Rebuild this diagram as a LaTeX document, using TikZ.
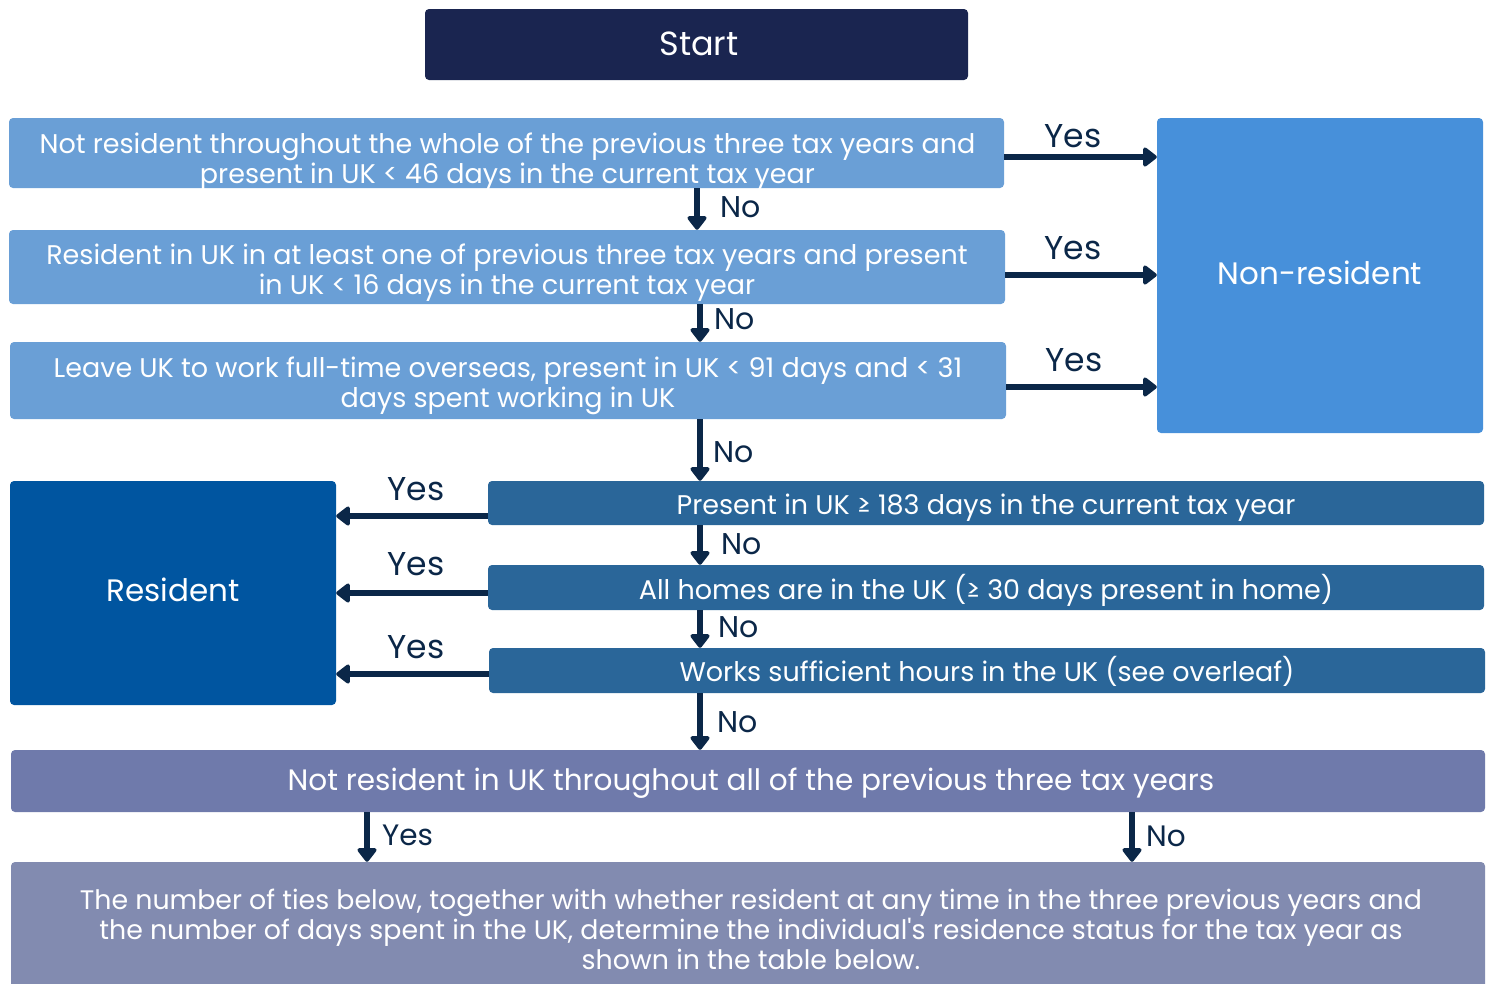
\documentclass[tikz,border=0pt]{standalone}
\usepackage{fontspec}
\setmainfont{Poppins}
\newfontfamily\plainpop{Poppins}[Ligatures=ResetAll]
\usetikzlibrary{arrows.meta}
\definecolor{startc}{HTML}{1A2550}
\definecolor{lightb}{HTML}{6A9FD6}
\definecolor{nonresc}{HTML}{4790DA}
\definecolor{midb}{HTML}{2A6699}
\definecolor{resc}{HTML}{0055A0}
\definecolor{greyb}{HTML}{6F7AAB}
\definecolor{greyc}{HTML}{828BB0}
\definecolor{arrc}{HTML}{0B2748}
\tikzset{
  box/.style={rounded corners=4pt, inner sep=0pt},
  txt/.style={text=white, align=center, inner sep=0pt, font=\fontsize{27}{30}\selectfont},
  arr/.style={draw=arrc, line width=5.5pt, -{Triangle[length=15pt,width=22pt,round]}},
  lbl/.style={text=arrc, inner sep=0pt, font=\fontsize{30}{34}\selectfont},
  ylbl/.style={text=arrc, inner sep=0pt, font=\fontsize{33}{36}\selectfont},
}
\begin{document}
\begin{tikzpicture}[x=1pt,y=-1pt]
\useasboundingbox (0,0) rectangle (1493,983);
% boxes
\node[box, fill=startc, minimum width=543pt, minimum height=71pt] (start) at (696.5,44.5) {};
\node[txt, font=\fontsize{33.5}{36}\selectfont] (startt) at (699,44) {Start};
\node[box, fill=lightb, minimum width=995pt, minimum height=70pt] (b1) at (506.5,153) {};
\node[txt] (b1t) at ([xshift=1pt,yshift=-9pt]b1.center)
  {Not resident throughout the whole of the previous three tax years and\\present in UK < 46 days in the current tax year};
\node[box, fill=lightb, minimum width=996pt, minimum height=74pt] (b2) at (507,267) {};
\node[txt] (b2t) at ([yshift=-6pt]b2.center)
  {Resident in UK in at least one of previous three tax years and present\\in UK < 16 days in the current tax year};
\node[box, fill=lightb, minimum width=996pt, minimum height=77pt] (b3) at (508,380.5) {};
\node[txt] (b3t) at ([yshift=-5pt]b3.center)
  {Leave UK to work full-time overseas, present in UK < 91 days and < 31\\days spent working in UK};
\node[box, fill=nonresc, minimum width=326pt, minimum height=315pt] (nonres) at (1320,275.5) {};
\node[txt, font=\fontsize{31}{34}\selectfont] (nonrest) at (1320,273) {Non-resident};
\node[box, fill=midb, minimum width=996pt, minimum height=44pt] (b4) at (986,503) {};
\node[txt] (b4t) at ([yshift=-5pt]b4.center) {Present in UK ≥ 183 days in the current tax year};
\node[box, fill=midb, minimum width=996pt, minimum height=45pt] (b5) at (986,587.5) {};
\node[txt] (b5t) at ([yshift=-2.5pt]b5.center) {All homes are in the UK (≥ 30 days present in home)};
\node[box, fill=midb, minimum width=996pt, minimum height=45pt] (b6) at (987,670.5) {};
\node[txt] (b6t) at ([yshift=-1pt]b6.center) {Works sufficient hours in the UK (see overleaf)};
\node[box, fill=resc, minimum width=326pt, minimum height=224pt] (res) at (173,593) {};
\node[txt, font=\fontsize{31}{34}\selectfont] (rest) at (173,590) {Resident};
\node[box, fill=greyb, minimum width=1474pt, minimum height=62pt] (b7) at (748,781) {};
\node[txt, font=\fontsize{29.5}{32}\selectfont] (b7t) at ([xshift=3pt,yshift=-2pt]b7.center)
  {Not resident in UK throughout all of the previous three tax years};
\node[box, fill=greyc, minimum width=1474pt, minimum height=134pt] (b8) at (748,929) {};
\node[txt, font=\fontsize{26.8}{30}\selectfont] (b8t) at ([xshift=3pt]b8.center)
  {The number of ties below, together with whether resident at any time in the three previous years and\\the number of days spent in the UK, determine the individual{\plainpop'}s residence status for the tax year as\\shown in the table below.};
% coordinates for vertical arrows
\coordinate (xa) at (697,0);
\coordinate (xb) at (700,0);
\coordinate (xl) at (367,0);
\coordinate (xr) at (1132,0);
% yes arrows to non-resident
\draw[arr] ([yshift=-4pt]b1.east) -- ([yshift=-4pt]b1.east -| nonres.west);
\draw[arr] ([yshift=-8pt]b2.east) -- ([yshift=-8pt]b2.east -| nonres.west);
\draw[arr] ([yshift=-6.5pt]b3.east) -- ([yshift=-6.5pt]b3.east -| nonres.west);
\node[ylbl] (y1) at (1073,136) {Yes};
\node[ylbl] (y2) at (1073,248) {Yes};
\node[ylbl] (y3) at (1074,360) {Yes};
% no arrows
\draw[arr] (b1.south -| xa) -- (b2.north -| xa);
\draw[arr] (b2.south -| xb) -- (b3.north -| xb);
\draw[arr] (b3.south -| xb) -- (b4.north -| xb);
\draw[arr] (b4.south -| xb) -- (b5.north -| xb);
\draw[arr] (b5.south -| xb) -- (b6.north -| xb);
\draw[arr] (b6.south -| xb) -- (b7.north -| xb);
\node[lbl, anchor=west] (n1) at (720,207) {No};
\node[lbl, anchor=west] (n2) at (714,319) {No};
\node[lbl, anchor=west] (n3) at (713,452) {No};
\node[lbl, anchor=west] (n4) at (721,544) {No};
\node[lbl, anchor=west] (n5) at (718,627) {No};
\node[lbl, anchor=west] (n6) at (717,722) {No};
% yes arrows to resident
\draw[arr] ([yshift=-13pt]b4.west) -- ([yshift=-13pt]b4.west -| res.east);
\draw[arr] ([yshift=-5.5pt]b5.west) -- ([yshift=-5.5pt]b5.west -| res.east);
\draw[arr] ([yshift=-3.5pt]b6.west) -- ([yshift=-3.5pt]b6.west -| res.east);
\node[ylbl] (y4) at (416,489) {Yes};
\node[ylbl] (y5) at (416,564) {Yes};
\node[ylbl] (y6) at (416,647) {Yes};
% bottom arrows
\draw[arr] (b7.south -| xl) -- (b8.north -| xl);
\draw[arr] (b7.south -| xr) -- (b8.north -| xr);
\node[lbl, anchor=west, font=\fontsize{29.5}{32}\selectfont] (y7) at (382,835) {Yes};
\node[lbl, anchor=west, font=\fontsize{29.5}{32}\selectfont] (n7) at (1146,836) {No};
\end{tikzpicture}
\end{document}
